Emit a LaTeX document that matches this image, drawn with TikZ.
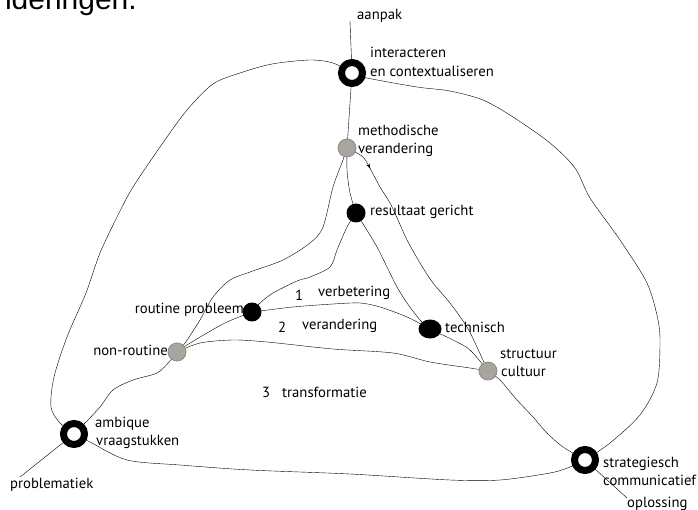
\documentclass[tikz,border=0pt]{standalone}
\usepackage{fontspec}
\setmainfont{PT Sans}
\newfontfamily\headfont{Liberation Sans}
\usepackage{xcolor}
\usetikzlibrary{backgrounds,shapes.geometric,arrows.meta,decorations.markings}
\definecolor{dotgray}{HTML}{A7A59D}
\definecolor{dotedge}{HTML}{8C8A82}

\begin{document}
\begin{tikzpicture}[x=1pt, y=-1pt,
  ring/.style={circle, draw=black, line width=7pt, fill=white,
    minimum size=21pt, inner sep=0pt},
  graydot/.style={circle, draw=dotedge, line width=0.8pt, fill=dotgray,
    minimum size=18pt, inner sep=0pt},
  blackdot/.style={circle, fill=black, minimum size=19pt, inner sep=0pt},
  lbl/.style={anchor=base west, inner sep=0pt, font=\fontsize{14.7}{18}\selectfont},
  lblr/.style={lbl, anchor=base east},
  wire/.style={line width=1.35pt, line join=round, line cap=round},
  midarrow/.style={postaction={decorate}, decoration={markings,
    mark=at position #1 with {\arrow{Stealth[length=5pt,width=3.5pt]}}}}]

  % picture frame: 1pt per pixel, y runs down
  \useasboundingbox (0,0) rectangle (698,510);

  % heading of the page, cut off at the top
  \node[anchor=base east, inner sep=0pt, font=\fontsize{30}{30}\selectfont\headfont]
    (heading) at (137,10) {veranderingen.};

  % the nine knots
  \node[ring]     (inter)   at (352,73)  {};
  \node[graydot]  (meth)    at (347,148) {};
  \node[blackdot] (result)  at (356,213) {};
  \node[blackdot] (routine) at (252,312) {};
  \node[ellipse, fill=black, minimum width=23pt, minimum height=19pt, inner sep=0pt]
                  (techn)   at (430,329) {};
  \node[graydot]  (nonrout) at (177,352) {};
  \node[graydot]  (struct)  at (488,371) {};
  \node[ring]     (ambig)   at (74,434)  {};
  \node[ring]     (strat)   at (585,460) {};

  % loose ends
  \coordinate (aanpak-end)  at (350,21);
  \coordinate (probl-end)   at (20,477);
  \coordinate (oploss-end)  at (627,498);

  \begin{scope}[on background layer, wire]
    % straight spokes
    \draw (inter.center) -- (aanpak-end);
    \draw (inter.center) -- (meth.center);
    \draw (ambig.center) -- (probl-end);
    \draw (strat.center) -- (oploss-end);

    % outer loop, left and right
    \draw plot[smooth] coordinates {(inter.center) (333,63) (310,60) (272,64)
      (240,73) (213,84) (187,110) (160,147) (133,187) (118,215) (100,253)
      (86,293) (67,337) (54,377) (51,407) (60,423) (ambig.center)};
    \draw plot[smooth] coordinates {(inter.center) (367,78) (417,87) (450,91)
      (483,100) (513,117) (550,143) (575,168) (590,198) (620,240) (647,283)
      (658,320) (660,345) (657,383) (640,415) (610,443) (strat.center)};
    \draw plot[smooth] coordinates {(ambig.center) (90,442) (127,460)
      (180,465) (250,470) (350,474) (450,480) (500,480) (550,473)
      (570,467) (strat.center)};

    % inner triangle
    \draw plot[smooth] coordinates {(meth.center) (347,170) (350,193) (result.center)};
    \draw plot[smooth] coordinates {(meth.center) (343,160) (333,187) (323,227)
      (310,243) (283,260) (250,272) (230,280) (213,297) (200,320) (185,343)
      (nonrout.center)};
    \draw[midarrow=0.12] plot[smooth] coordinates {(meth.center) (363,157)
      (372,172) (380,187) (390,203) (398,220) (407,240) (420,263) (433,283)
      (450,303) (467,327) (476,345) (struct.center)};
    \draw plot[smooth] coordinates {(result.center) (347,227) (337,250)
      (330,267) (310,277) (297,281) (273,293) (260,303) (routine.center)};
    \draw plot[smooth] coordinates {(result.center) (365,227) (377,247)
      (387,267) (397,287) (407,303) (420,320) (techn.center)};
    \draw plot[smooth] coordinates {(routine.center) (293,307) (333,304)
      (360,303) (380,307) (407,317) (techn.center)};
    \draw plot[smooth] coordinates {(routine.center) (227,322) (207,333)
      (187,345) (nonrout.center)};
    \draw plot[smooth] coordinates {(techn.center) (453,340) (470,350)
      (struct.center)};
    \draw plot[smooth] coordinates {(nonrout.center) (200,343) (233,340)
      (267,342) (333,349) (393,353) (430,362) (470,368) (struct.center)};
    \draw plot[smooth] coordinates {(nonrout.center) (170,361) (157,373)
      (133,380) (113,390) (100,407) (85,423) (ambig.center)};
    \draw plot[smooth] coordinates {(struct.center) (500,380) (517,400)
      (533,417) (547,433) (563,447) (strat.center)};
  \end{scope}

  % labels
  \node[lbl] (l-aanpak) at (357,20) {aanpak};
  \node[lbl] (l-inter1) at (370,58) {interacteren};
  \node[lbl] (l-inter2) at (370,77) {en contextualiseren};
  \node[lbl] (l-meth1)  at (358,136) {methodische};
  \node[lbl] (l-meth2)  at (358,154) {verandering};
  \node[lbl] (l-result) at (370,216) {resultaat gericht};
  \node[lblr] (l-routine) at (244,313) {routine probleem};
  \node[lbl] (l-one)    at (295,301) {1};
  \node[lbl] (l-verb)   at (318,297) {verbetering};
  \node[lbl] (l-two)    at (278,332) {2};
  \node[lbl] (l-verand) at (302,330) {verandering};
  \node[lbl] (l-techn)  at (445,332) {technisch};
  \node[lblr] (l-nonrout) at (168,355) {non-routine};
  \node[lbl] (l-struct1) at (500,358) {structuur};
  \node[lbl] (l-struct2) at (501,376) {cultuur};
  \node[lbl] (l-three)  at (262,397) {3};
  \node[lbl] (l-transf) at (282,397) {transformatie};
  \node[lbl] (l-ambig1) at (95,427) {ambique};
  \node[lbl] (l-ambig2) at (96,445) {vraagstukken};
  \node[lbl] (l-probl)  at (10,488) {problematiek};
  \node[lbl] (l-strat1) at (603,467) {strategiesch};
  \node[lbl] (l-strat2) at (603,485) {communicatief};
  \node[lbl] (l-oploss) at (627,507) {oplossing};

\end{tikzpicture}
\end{document}
